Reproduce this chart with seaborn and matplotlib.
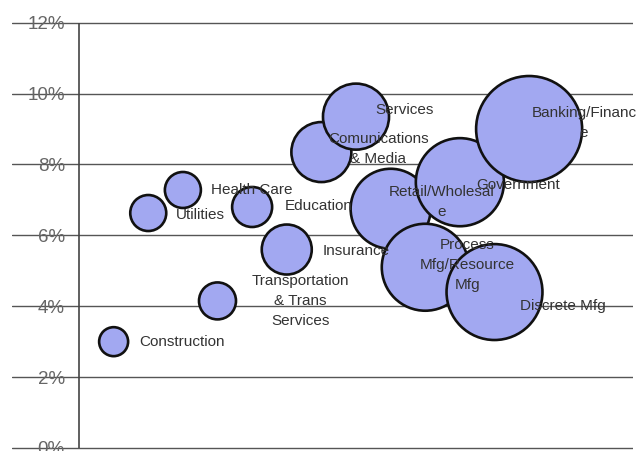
import numpy as np
import pandas as pd
import seaborn as sns
import matplotlib.pyplot as plt

# data
industries = ["Construction", "Utilities", "Health Care",
              "Transportation\n& Trans\nServices", "Education", "Insurance",
              "Comunications\n& Media", "Services", "Retail/Wholesal\ne",
              "Process\nMfg/Resource\nMfg", "Government", "Discrete Mfg",
              "Banking/Financ\ne"]
position = list(range(1, 14))
growth = [3.0, 6.63, 7.28, 4.15, 6.8, 5.6, 8.35, 9.35, 6.75, 5.1, 7.5, 4.4, 9.0]
bubble = [2.1, 3.24, 3.24, 3.42, 4.0, 6.25, 9.0, 10.9, 16.0, 18.9, 19.4, 23.0, 28.1]
y_ticks = [0, 2, 4, 6, 8, 10, 12]
y_labels = ["0%", "2%", "4%", "6%", "8%", "10%", "12%"]

# label placement (pixels right / up from bubble centre, alignment)
label_offsets = {
    "Construction": (26, 0, "left"),
    "Utilities": (28, -2, "left"),
    "Health Care": (28, 0, "left"),
    "Transportation\n& Trans\nServices": (83, 0, "center"),
    "Education": (33, 1, "left"),
    "Insurance": (36, -1, "left"),
    "Comunications\n& Media": (57, 3.5, "center"),
    "Services": (19, 7, "left"),
    "Retail/Wholesal\ne": (51, 7, "center"),
    "Process\nMfg/Resource\nMfg": (42, 2, "center"),
    "Government": (16, -3, "left"),
    "Discrete Mfg": (26, -14, "left"),
    "Banking/Financ\ne": (55, 6, "center"),
}

df = pd.DataFrame({"industry": industries, "position": position,
                   "growth": growth, "bubble": bubble})

sns.set_style("white")
plt.rcParams["font.family"] = ["Liberation Sans", "DejaVu Sans"]

fig = plt.figure(figsize=(6.43, 4.51), dpi=100)
ax = fig.add_axes([12 / 643, -2.3 / 451, 621 / 643, 435.9 / 451])

vmax = max(bubble)
px2pt = 0.72
sns.scatterplot(data=df, x="position", y="growth", size="bubble",
                sizes=(0, 207.36 * vmax), size_norm=(0, vmax),
                color="#a2a8f1", edgecolor="#111111", linewidth=1.9,
                legend=False, ax=ax, zorder=3)

for name, xv, yv in zip(industries, position, growth):
    dx, dy, ha = label_offsets[name]
    ax.annotate(name, (xv, yv), xytext=(dx * px2pt, dy * px2pt),
                textcoords="offset points", ha=ha, va="center",
                fontsize=11, color="#333333", linespacing=1.55,
                zorder=5, annotation_clip=False)

ax.set_xlim(-1.935, 16.0)
ax.set_ylim(-0.15, 12.15)
ax.set_yticks(y_ticks)
ax.set_yticklabels(y_labels)
ax.set_xticks([])
ax.set_xlabel("")
ax.set_ylabel("")
ax.grid(axis="y", color="#555555", linewidth=1.0, zorder=0)
ax.vlines(0, 0, 12, color="#444444", linewidth=1.2, zorder=1)
ax.tick_params(axis="y", length=0, pad=-38, labelsize=13.5, labelcolor="#666666")
for s in ax.spines.values():
    s.set_visible(False)

fig.savefig("out.png", dpi=100)
